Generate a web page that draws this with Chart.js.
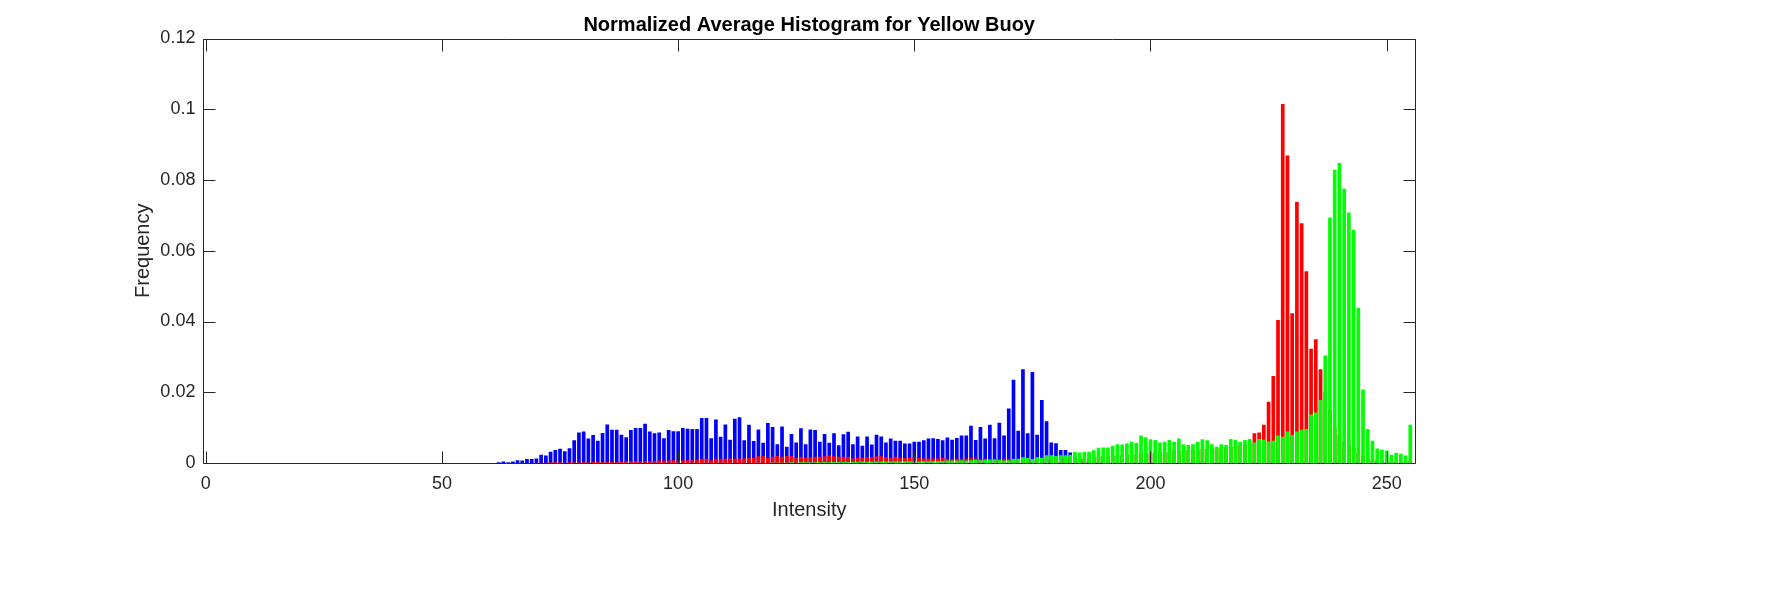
<!DOCTYPE html>
<html>
<head>
<meta charset="utf-8">
<script src="https://cdn.jsdelivr.net/npm/chart.js@4.4.1/dist/chart.umd.min.js"></script>
<style>
html,body{margin:0;padding:0;background:#fff;}
canvas{display:block;}
</style>
</head>
<body>
<canvas id="c" width="1769" height="589"></canvas>
<script>
const chartTitle = "Normalized Average Histogram for Yellow Buoy";
const xAxisTitle = "Intensity";
const yAxisTitle = "Frequency";

const intensity = [
0,1,2,3,4,5,6,7,8,9,10,11,12,13,14,15,
16,17,18,19,20,21,22,23,24,25,26,27,28,29,30,31,
32,33,34,35,36,37,38,39,40,41,42,43,44,45,46,47,
48,49,50,51,52,53,54,55,56,57,58,59,60,61,62,63,
64,65,66,67,68,69,70,71,72,73,74,75,76,77,78,79,
80,81,82,83,84,85,86,87,88,89,90,91,92,93,94,95,
96,97,98,99,100,101,102,103,104,105,106,107,108,109,110,111,
112,113,114,115,116,117,118,119,120,121,122,123,124,125,126,127,
128,129,130,131,132,133,134,135,136,137,138,139,140,141,142,143,
144,145,146,147,148,149,150,151,152,153,154,155,156,157,158,159,
160,161,162,163,164,165,166,167,168,169,170,171,172,173,174,175,
176,177,178,179,180,181,182,183,184,185,186,187,188,189,190,191,
192,193,194,195,196,197,198,199,200,201,202,203,204,205,206,207,
208,209,210,211,212,213,214,215,216,217,218,219,220,221,222,223,
224,225,226,227,228,229,230,231,232,233,234,235,236,237,238,239,
240,241,242,243,244,245,246,247,248,249,250,251,252,253,254,255
];

// Blue channel (bins 0..255)
const blueValues = [
0,0,0,0,0,0,0,0,0,0,0,0,0,0,0,0,
0,0,0,0,0,0,0,0,0,0,0,0,0,0,0,0,
0,0,0,0,0,0,0,0,0,0,0,0,0,0,0,0,
0,0,0,0,0,0,0,0,0,0,0,0,0,0,
0.0002,0.0004,0.0002,0.0004,0.0008,0.0007,0.0011,0.0011,
0.0013,0.0023,0.0021,0.0032,0.0037,0.0040,0.0033,0.0042,0.0064,0.0086,
0.0089,0.0069,0.0079,0.0063,0.0085,0.0109,0.0094,0.0094,0.0080,0.0073,
0.0093,0.0099,0.0099,0.0111,0.0089,0.0084,0.0086,0.0070,0.0093,0.0090,
0.0090,0.0099,0.0097,0.0096,0.0096,0.0127,0.0127,0.0070,0.0123,0.0074,
0.0109,0.0066,0.0125,0.0129,0.0064,0.0108,0.0062,0.0095,0.0057,0.0113,
0.0102,0.0053,0.0103,0.0046,0.0082,0.0058,0.0098,0.0053,0.0095,0.0093,
0.0060,0.0082,0.0057,0.0084,0.0050,0.0081,0.0088,0.0053,0.0075,0.0049,
0.0075,0.0052,0.0080,0.0075,0.0058,0.0069,0.0063,0.0063,0.0055,0.0055,
0.0060,0.0060,0.0064,0.0069,0.0070,0.0068,0.0064,0.0072,0.0066,0.0071,
0.0078,0.0078,0.0105,0.0065,0.0102,0.0069,0.0108,0.0070,0.0114,0.0078,
0.0154,0.0235,0.0091,0.0265,0.0084,0.0257,0.0080,0.0178,0.0118,0.0058,
0.0056,0.0037,0.0037,0.0030,0.0020,0.0010,0.0005,
0,0,0,0,0,0,0,0,0,0,0,0,0,0,0,0,0,0,0,0,0,0,0,0,0,0,0,0,0,0,0,0,0,0,0,
0,0,0,0,0,0,0,0,0,0,0,0,0,0,0,0,0,0,0,0,0,0,0,0,0,0,0,0,0,0,0,0,0,0
];

// Red channel (bins 0..255)
const redValues = [
0,0,0,0,0,0,0,0,0,0,0,0,0,0,0,0,
0,0,0,0,0,0,0,0,0,0,0,0,0,0,0,0,
0,0,0,0,0,0,0,0,0,0,0,0,0,0,0,0,
0,0,0,0,0,0,0,0,0,0,0,0,0,0,0,0,
0,0,0,0,0,0,
0.0001,0.0001,0.0001,0.0002,0.0002,0.0002,0.0001,0.0002,0.0002,0.0002,
0.0002,0.0002,0.0003,0.0003,0.0003,0.0003,0.0003,0.0003,
0.0004,0.0005,0.0005,0.0006,0.0005,0.0006,0.0006,0.0006,
0.0007,0.0007,0.0007,0.0008,0.0007,0.0008,0.0008,0.0008,0.0009,
0.0012,0.0012,0.0008,0.0012,0.0012,0.0012,0.0013,0.0013,0.0013,
0.0013,0.0014,0.0014,0.0019,0.0020,0.0014,0.0018,0.0020,0.0018,0.0020,
0.0019,0.0015,0.0018,0.0015,0.0016,0.0018,0.0018,0.0019,0.0021,0.0019,
0.0018,0.0018,0.0018,0.0013,0.0015,0.0015,0.0017,0.0017,0.0019,0.0019,
0.0017,0.0015,0.0018,0.0015,0.0014,0.0015,0.0017,0.0014,0.0013,0.0013,
0.0013,0.0013,0.0014,0.0012,0.0011,0.0013,0.0012,0.0013,0.0014,0.0013,
0.0011,0.0012,0.0011,0.0011,0.0009,0.0012,0.0012,0.0009,
0.0009,0.0008,0.0008,0.0009,0.0009,0.0010,0.0010,0.0011,0.0011,0.0012,0.0012,0.0012,
0.0013,0.0014,0.0014,0.0016,0.0016,0.0018,0.0019,0.0019,0.0021,0.0022,0.0022,0.0024,0.0025,0.0024,0.0027,0.0028,
0.0027,0.0030,0.0031,0.0030,0.0032,0.0034,0.0033,0.0036,0.0035,0.0038,0.0037,0.0040,0.0039,0.0042,0.0041,0.0044,
0.0043,0.0046,0.0048,0.0050,0.0053,0.0057,
0.0084,0.0086,0.0108,0.0173,0.0246,0.0404,0.1015,0.0869,0.0423,0.0738,
0.0678,0.0542,0.0323,0.0350,0.0265,
0.0200,0.0150,0.0100,0.0080,0.0060,0.0050,0.0040,0.0030,0.0020,0.0015,
0.0010,0.0008,0.0006,0.0005,0.0004,0.0003,0.0003,0.0002,0.0005
];

// Green channel (bins 0..255)
const greenValues = [
0,0,0,0,0,0,0,0,0,0,0,0,0,0,0,0,
0,0,0,0,0,0,0,0,0,0,0,0,0,0,0,0,
0,0,0,0,0,0,0,0,0,0,0,0,0,0,0,0,
0,0,0,0,0,0,0,0,0,0,0,0,0,0,0,0,
0,0,0,0,0,0,0,0,0,0,0,0,0,0,0,0,
0,0,0,0,0,0,0,0,0,0,0,0,0,0,0,0,
0,0,0,0,0,0,0,0,0,0,0,0,0,0,0,0,
0,0,0,0,0,0,0,0,
0.0001,0.0001,0.0001,0.0001,0.0002,0.0001,0.0002,0.0002,0.0002,0.0002,
0.0002,0.0003,0.0002,0.0003,0.0003,0.0003,0.0003,0.0003,0.0003,0.0004,
0.0003,0.0004,0.0004,0.0004,0.0004,0.0004,0.0005,0.0004,0.0005,0.0005,
0.0004,0.0004,0.0005,0.0005,0.0006,0.0006,0.0006,0.0007,0.0007,0.0007,
0.0008,0.0007,0.0008,0.0009,0.0008,0.0009,0.0009,0.0010,0.0009,
0.0007,0.0008,0.0011,0.0012,0.0016,0.0014,0.0011,0.0016,0.0015,0.0022,
0.0022,0.0020,0.0022,0.0022,0.0023,
0.0031,0.0030,0.0032,0.0032,0.0036,0.0043,0.0044,0.0044,0.0049,0.0053,
0.0052,0.0055,0.0060,0.0057,0.0078,0.0073,0.0067,0.0065,0.0058,0.0060,
0.0065,0.0060,0.0069,0.0053,0.0051,0.0053,0.0060,0.0067,0.0064,0.0053,
0.0046,0.0053,0.0051,0.0068,0.0066,0.0060,0.0065,0.0068,
0.0058,0.0068,0.0066,0.0061,0.0063,0.0078,0.0074,0.0089,0.0079,0.0089,
0.0094,0.0096,0.0137,0.0143,0.0178,0.0304,0.0694,0.0829,0.0848,0.0775,
0.0708,0.0659,0.0438,0.0208,0.0096,0.0063,0.0041,0.0038,0.0035,0.0023,
0.0028,0.0026,0.0021,0.0108
];

const xTickValues = [0, 50, 100, 150, 200, 250];
const xTickLabels = ["0", "50", "100", "150", "200", "250"];
const yTickValues = [0, 0.02, 0.04, 0.06, 0.08, 0.1, 0.12];
const yTickLabels = ["0", "0.02", "0.04", "0.06", "0.08", "0.1", "0.12"];

const FONT = "'Liberation Sans', Arial, Helvetica, sans-serif";
const AXIS_COLOR = "#262626";

function toPoints(values) {
  return values.map((v, i) => ({ x: intensity[i], y: v }));
}

const framePlugin = {
  id: 'frame',
  afterDatasetsDraw(chart) {
    const { ctx, chartArea: a, scales: { x, y } } = chart;
    const L = Math.round(a.left) + 0.5, R = Math.round(a.right) + 0.5;
    const T = Math.round(a.top) + 0.5, B = Math.round(a.bottom) + 0.5;
    const tl = 12;
    ctx.save();
    ctx.strokeStyle = AXIS_COLOR;
    ctx.lineWidth = 1;
    ctx.beginPath();
    ctx.rect(L, T, R - L, B - T);
    xTickValues.forEach(v => {
      const px = Math.round(x.getPixelForValue(v)) + 0.5;
      ctx.moveTo(px, B); ctx.lineTo(px, B - tl);
      ctx.moveTo(px, T); ctx.lineTo(px, T + tl);
    });
    yTickValues.forEach(v => {
      const py = Math.round(y.getPixelForValue(v)) + 0.5;
      ctx.moveTo(L, py); ctx.lineTo(L + tl, py);
      ctx.moveTo(R, py); ctx.lineTo(R - tl, py);
    });
    ctx.stroke();
    ctx.restore();
  }
};

const barCommon = { grouped: false, barPercentage: 0.78, categoryPercentage: 1.0, borderWidth: 0 };

new Chart(document.getElementById('c'), {
  type: 'bar',
  data: {
    datasets: [
      Object.assign({ label: 'Blue', data: toPoints(blueValues), backgroundColor: '#0000FF', order: 3 }, barCommon),
      Object.assign({ label: 'Red', data: toPoints(redValues), backgroundColor: '#FF0000', order: 2 }, barCommon),
      Object.assign({ label: 'Green', data: toPoints(greenValues), backgroundColor: '#00FF00', order: 1 }, barCommon)
    ]
  },
  options: {
    responsive: false,
    animation: false,
    devicePixelRatio: 1,
    indexAxis: 'x',
    layout: { padding: { left: 0, right: 354, top: 0, bottom: 0 } },
    plugins: {
      legend: { display: false },
      tooltip: { enabled: false },
      title: {
        display: true,
        text: chartTitle,
        fullSize: false,
        color: '#000000',
        font: { family: FONT, size: 20, weight: 'bold' },
        padding: { top: 13, bottom: 1.5 }
      }
    },
    scales: {
      x: {
        type: 'linear',
        min: -0.5,
        max: 256,
        offset: false,
        grid: { display: false, drawTicks: false, tickLength: 0 },
        border: { display: false },
        afterBuildTicks: s => { s.ticks = xTickValues.map(v => ({ value: v })); },
        afterFit: s => { s.height = 126; },
        ticks: {
          color: AXIS_COLOR,
          font: { family: FONT, size: 18 },
          padding: 10,
          maxRotation: 0,
          autoSkip: false,
          callback: (v) => xTickLabels[xTickValues.indexOf(v)]
        },
        title: {
          display: true,
          text: xAxisTitle,
          color: AXIS_COLOR,
          font: { family: FONT, size: 20 },
          padding: { top: 0, bottom: 67 }
        }
      },
      y: {
        min: 0,
        max: 0.12,
        grid: { display: false, drawTicks: false, tickLength: 0 },
        border: { display: false },
        afterBuildTicks: s => { s.ticks = yTickValues.map(v => ({ value: v })); },
        afterFit: s => { s.width = 203.4; },
        ticks: {
          color: AXIS_COLOR,
          font: { family: FONT, size: 18 },
          padding: 8,
          autoSkip: false,
          callback: (v) => {
            const i = yTickValues.findIndex(t => Math.abs(t - v) < 1e-9);
            return i >= 0 ? yTickLabels[i] : '';
          }
        },
        title: {
          display: true,
          text: yAxisTitle,
          color: AXIS_COLOR,
          font: { family: FONT, size: 20 },
          padding: { top: 131, bottom: 0 }
        }
      }
    }
  },
  plugins: [framePlugin]
});
</script>
</body>
</html>
